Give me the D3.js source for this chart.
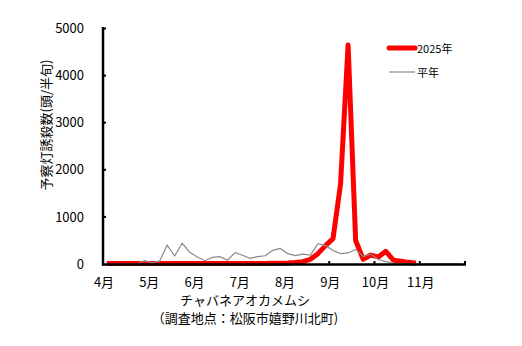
<!DOCTYPE html>
<html>
<head>
<meta charset="utf-8">
<script src="https://cdn.jsdelivr.net/npm/d3@7"></script>
<style>
  html, body { margin: 0; padding: 0; background: #fff; }
  svg { display: block; }
  text { font-family: "Noto Sans CJK JP", "Liberation Sans", sans-serif; fill: #000; }
</style>
</head>
<body>
<svg id="chart" width="522" height="346"></svg>
<script>
// Half-decade (5-day) periods, April to November, six per month
const monthLabels = ["4月", "5月", "6月", "7月", "8月", "9月", "10月", "11月"];
const categories = monthLabels.flatMap(m => [1, 2, 3, 4, 5, 6].map(h => m + h + "半旬"));

// Light-trap catches (head / half-decade)
const catch2025 = [
  10, 10, 10, 10, 10, 10,
  10, 10, 10, 10, 10, 10,
  10, 10, 10, 10, 10, 10,
  10, 10, 10, 10, 15, 15,
  20, 30, 50, 100, 220, 390,
  540, 1700, 4650, 500, 100, 190,
  150, 270, 80, 60, 35, 15
];
const catchNormal = [
  0, 0, 0, 0, 0, 70,
  30, 60, 400, 170, 440, 250,
  150, 70, 140, 155, 80, 240,
  185, 120, 155, 175, 290, 330,
  220, 180, 210, 190, 430, 390,
  285, 220, 235, 310, 160, 210,
  95, 50, 15, 10, 5, 5,
  5, 5, 5, 5, 5, 5
];
const yTicks = [0, 1000, 2000, 3000, 4000, 5000];
const seriesNames = ["2025年", "平年"];

const svg = d3.select("#chart");
const plotLeft = 103, plotRight = 465, plotTop = 28.5, plotBottom = 264;

const x = d3.scaleBand().domain(categories).range([plotLeft, plotRight]).paddingInner(0).paddingOuter(0);
const y = d3.scaleLinear().domain([0, 5000]).range([plotBottom, plotTop]);
const cx = i => x(categories[i]) + x.bandwidth() / 2;

// Month boundaries (including the end of November)
const boundaries = monthLabels.map((m, k) => x(categories[k * 6])).concat([plotRight]);

// Y axis with labels on the left and small inner tick marks
const yAxis = svg.append("g").attr("transform", `translate(${plotLeft},0)`)
  .call(d3.axisLeft(y).tickValues(yTicks).tickSize(0).tickPadding(19).tickFormat(d3.format("d")));
yAxis.select(".domain").remove();
yAxis.selectAll("text").attr("font-size", 13).attr("font-family", "\"Liberation Sans\", sans-serif");
svg.append("g").selectAll("line").data(yTicks.slice(1)).join("line")
  .attr("x1", plotLeft).attr("x2", plotLeft + 3)
  .attr("y1", d => y(d)).attr("y2", d => y(d))
  .attr("stroke", "#000").attr("stroke-width", 2);

// X axis: tick marks at month boundaries, labels under them
svg.append("g").selectAll("line").data(boundaries).join("line")
  .attr("x1", d => d).attr("x2", d => d)
  .attr("y1", plotBottom).attr("y2", plotBottom - 3)
  .attr("stroke", "#000").attr("stroke-width", 2);
svg.append("g").selectAll("text").data(monthLabels).join("text")
  .attr("x", (d, k) => boundaries[k] + 1)
  .attr("y", 287)
  .attr("text-anchor", "middle")
  .attr("font-size", 13)
  .text(d => d);

// Lines
const line = d3.line().x((d, i) => cx(i)).y(d => y(d));
svg.append("path").datum(catch2025)
  .attr("d", line).attr("fill", "none")
  .attr("stroke", "#ff0000").attr("stroke-width", 5).attr("stroke-linejoin", "round");
svg.append("path").datum(catchNormal)
  .attr("d", line).attr("fill", "none")
  .attr("stroke", "#8a8a8a").attr("stroke-width", 1.2);

// Axis lines
svg.append("line").attr("x1", plotLeft).attr("x2", plotLeft).attr("y1", plotTop - 1.5).attr("y2", plotBottom + 1.5)
  .attr("stroke", "#000").attr("stroke-width", 2.5);
svg.append("line").attr("x1", plotLeft - 1).attr("x2", plotRight + 1).attr("y1", plotBottom + 0.5).attr("y2", plotBottom + 0.5)
  .attr("stroke", "#000").attr("stroke-width", 2.5);

// Y axis title
svg.append("text")
  .attr("transform", "translate(51,125) rotate(-90)")
  .attr("text-anchor", "middle")
  .attr("font-size", 13)
  .text("予察灯誘殺数(頭/半旬)");

// Captions
svg.append("text").attr("x", 245).attr("y", 305).attr("text-anchor", "middle").attr("font-size", 13)
  .text("チャバネアオカメムシ");
svg.append("text").attr("x", 245).attr("y", 323).attr("text-anchor", "middle").attr("font-size", 13)
  .text("（調査地点：松阪市嬉野川北町)");

// Legend
const legend = svg.append("g");
legend.append("line").attr("x1", 389).attr("x2", 415).attr("y1", 48).attr("y2", 48)
  .attr("stroke", "#ff0000").attr("stroke-width", 5).attr("stroke-linecap", "round");
legend.append("text").attr("x", 417).attr("y", 52.5).attr("font-size", 11).text(seriesNames[0]);
legend.append("line").attr("x1", 389).attr("x2", 415).attr("y1", 72).attr("y2", 72)
  .attr("stroke", "#8a8a8a").attr("stroke-width", 1.2);
legend.append("text").attr("x", 417).attr("y", 76.5).attr("font-size", 11).text(seriesNames[1]);
</script>
</body>
</html>
